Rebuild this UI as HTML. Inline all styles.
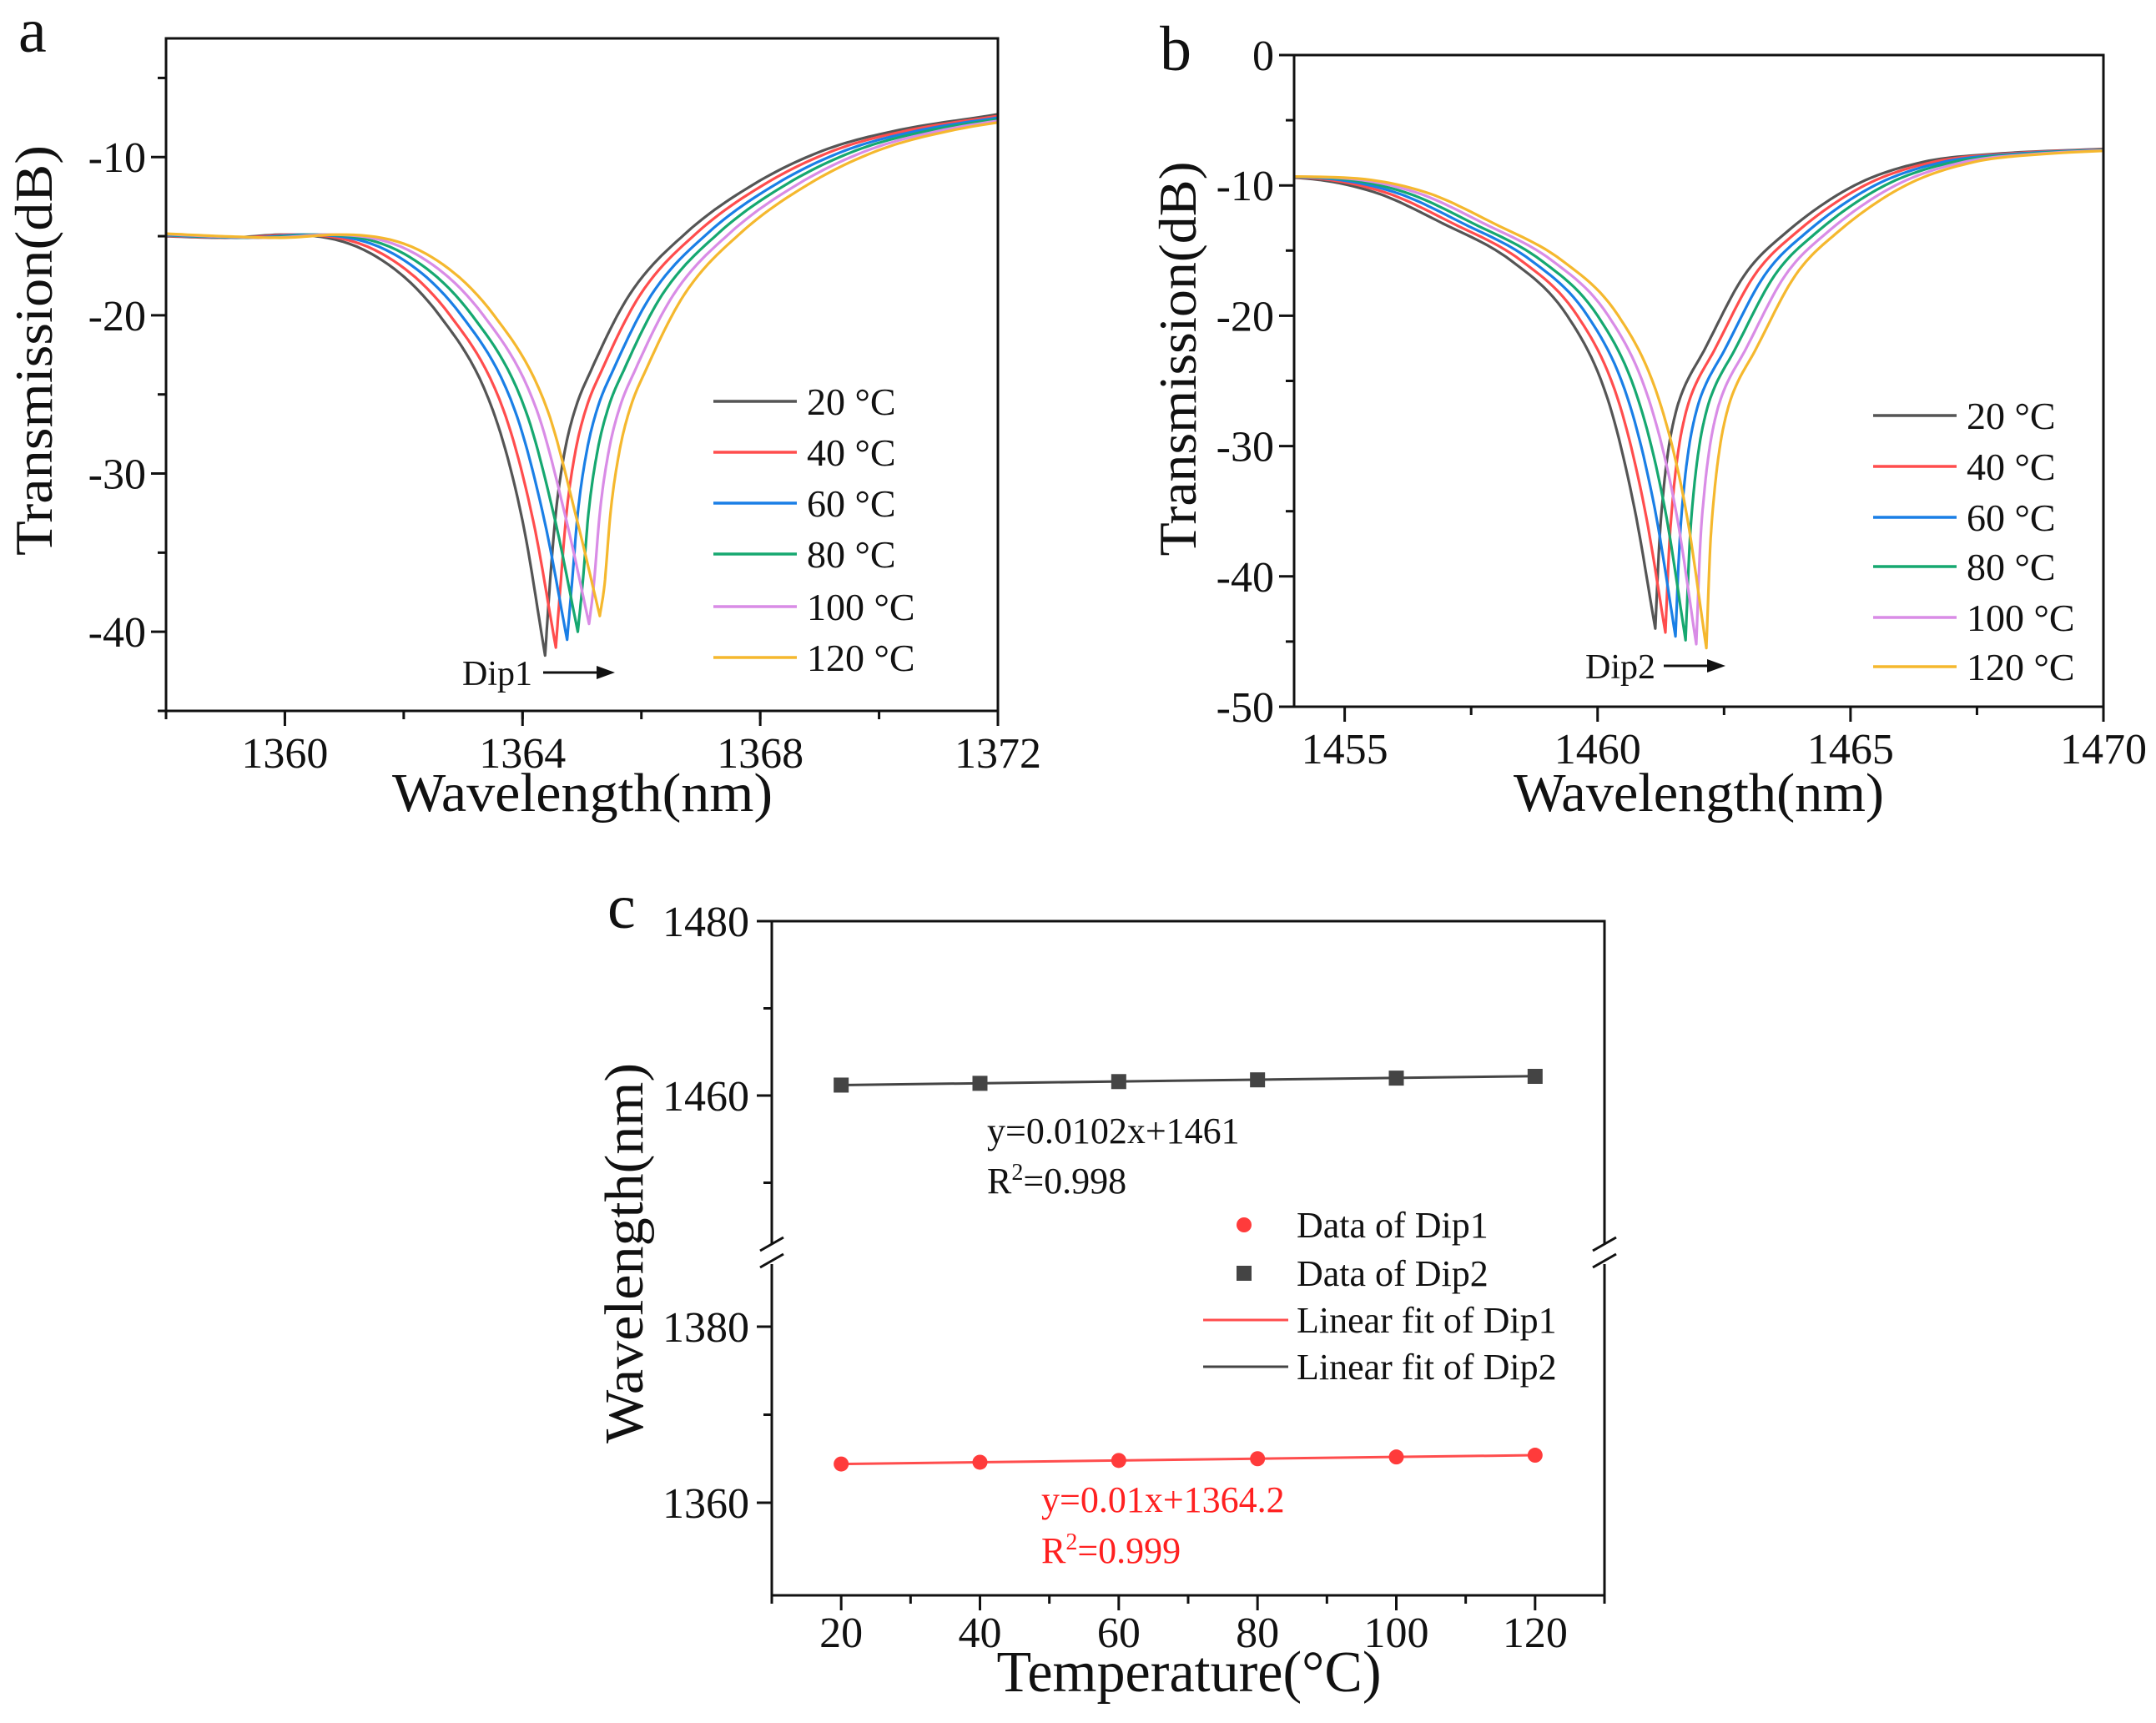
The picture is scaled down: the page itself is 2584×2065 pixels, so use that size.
<!DOCTYPE html>
<html><head><meta charset="utf-8"><style>
html,body{margin:0;padding:0;background:#fff;}
svg{display:block;}
text{font-family:"Liberation Serif",serif;}
</style></head>
<body>
<svg id="fig" width="2584" height="2065" viewBox="0 0 2584 2065" xmlns="http://www.w3.org/2000/svg">
<g id="pa"></g>
<g id="pb"></g>
<g id="pc"></g>
</svg>
<script>
// ---------- data ----------
const tempLabels = ["20 °C","40 °C","60 °C","80 °C","100 °C","120 °C"];
const colors = ["#555555","#ff4d4d","#1a7fe6","#16a870","#d98ce6","#f5b82e"];
// panel a: dip1 spectra
const aCenters = [1364.38,1364.56,1364.75,1364.93,1365.12,1365.30];
const aDepths = [-41.5,-41.0,-40.5,-40.0,-39.5,-39.0];
const aShapeOffsets = [-7.5,-6.38,-5.38,-4.38,-2.93,-1.78,-0.88,-0.38,0,0.08,0.18,0.32,0.5,0.77,1.42,2.37,3.52,4.67,5.82,7.62];
const aShapeValues = [-14.8,-15.0,-15.1,-14.9,-16.1,-20,-26,-33,null,-37,-32.5,-28.8,-26,-23.5,-18.7,-14.8,-11.7,-9.6,-8.4,-7.3];
// panel b: dip2 spectra
const bCenters = [1461.14,1461.34,1461.54,1461.74,1461.95,1462.15];
const bDepths = [-44.0,-44.3,-44.6,-44.9,-45.2,-45.5];
const bShapeOffsets = [-9,-7.17,-5.57,-4.21,-2.84,-1.74,-0.94,-0.41,0,0.08,0.16,0.27,0.4,0.54,0.96,1.76,2.56,3.94,5.3,6.66,8.86];
const bShapeValues = [-9.3,-9.4,-10.5,-12.9,-15.8,-20,-26.4,-34.8,null,-37.5,-33.5,-30,-27.5,-25.8,-22.7,-16.9,-13.7,-10,-8.2,-7.6,-7.2];
// panel c
const temps = [20,40,60,80,100,120];
const dip1 = [1364.4,1364.6,1364.8,1365.0,1365.2,1365.4];
const dip2 = [1461.2,1461.4,1461.6,1461.8,1462.0,1462.2];
const fit1 = [0.01,1364.2];
const fit2 = [0.0102,1461];
const aXTicks = [1360,1364,1368,1372];
const aYTicks = [-10,-20,-30,-40];
const bXTicks = [1455,1460,1465,1470];
const bYTicks = [0,-10,-20,-30,-40,-50];
const cXTicks = [20,40,60,80,100,120];
const cYTicks = [1480,1460,1380,1360];

// ---------- helpers ----------
const NS="http://www.w3.org/2000/svg";
function mk(parent,tag,attrs,txt){const e=document.createElementNS(NS,tag);for(const k in attrs)e.setAttribute(k,attrs[k]);if(txt!==undefined)e.textContent=txt;parent.appendChild(e);return e;}
function lin(d0,d1,p0,p1){return v=>p0+(v-d0)*(p1-p0)/(d1-d0);}
function monotone(pts,n){
 const N=pts.length;if(N<2)return pts.slice();
 const d=[],m=[];
 for(let i=0;i<N-1;i++)d.push((pts[i+1][1]-pts[i][1])/(pts[i+1][0]-pts[i][0]));
 m[0]=d[0];m[N-1]=d[N-2];
 for(let i=1;i<N-1;i++){m[i]=(d[i-1]*d[i]<=0)?0:(d[i-1]+d[i])/2;}
 for(let i=0;i<N-1;i++){if(d[i]===0){m[i]=0;m[i+1]=0;continue;}
  const a=m[i]/d[i],b=m[i+1]/d[i],s=a*a+b*b;if(s>9){const t=3/Math.sqrt(s);m[i]=t*a*d[i];m[i+1]=t*b*d[i];}}
 const out=[];
 for(let i=0;i<N-1;i++){const x0=pts[i][0],x1=pts[i+1][0],h=x1-x0,y0=pts[i][1],y1=pts[i+1][1];
  for(let k=0;k<n;k++){const t=k/n,t2=t*t,t3=t2*t;
   const y=(2*t3-3*t2+1)*y0+(t3-2*t2+t)*h*m[i]+(-2*t3+3*t2)*y1+(t3-t2)*h*m[i+1];
   out.push([x0+t*h,y]);}}
 out.push(pts[N-1]);return out;}

function spectrumPanel(g,cfg){
 const X=lin(cfg.xmin,cfg.xmax,cfg.L,cfg.R), Y=lin(cfg.ymin,cfg.ymax,cfg.B,cfg.T);
 const clip=mk(g,'clipPath',{id:cfg.id+'clip'});mk(clip,'rect',{x:cfg.L,y:cfg.T-20,width:cfg.R-cfg.L,height:cfg.B-cfg.T+20});
 const cg=mk(g,'g',{'clip-path':'url(#'+cfg.id+'clip)'});
 cfg.centers.forEach((c,i)=>{
  const segL=[],segR=[];
  cfg.offs.forEach((o,j)=>{const v=cfg.vals[j]===null?cfg.depths[i]:cfg.vals[j];const p=[c+o,v];
   if(o<=0)segL.push(p);if(o>=0)segR.push(p);});
  const pts=monotone(segL,12).concat(monotone(segR,12).slice(1)).map(q=>[X(q[0]),Y(q[1])]);
  const p=mk(cg,'path',{d:'M'+pts.map(q=>q[0].toFixed(1)+','+q[1].toFixed(1)).join('L'),fill:'none',stroke:colors[i],'stroke-width':3.2,'stroke-linejoin':'round'});
  
  
 });
 const fr=mk(g,'rect',{x:cfg.L,y:cfg.T,width:cfg.R-cfg.L,height:cfg.B-cfg.T,fill:'none',stroke:'#111','stroke-width':3});
 
 cfg.xminor.forEach(v=>mk(g,'line',{x1:X(v),x2:X(v),y1:cfg.B,y2:cfg.B+10,stroke:'#111','stroke-width':3}));
 cfg.yminor.forEach(v=>mk(g,'line',{x1:cfg.L,x2:cfg.L-10,y1:Y(v),y2:Y(v),stroke:'#111','stroke-width':3}));
 cfg.xticks.forEach(v=>{mk(g,'line',{x1:X(v),x2:X(v),y1:cfg.B,y2:cfg.B+18,stroke:'#111','stroke-width':3});
  const t=mk(g,'text',{x:X(v),y:cfg.B+68,'text-anchor':'middle','font-size':52,fill:'#111'},String(v));
  });
 cfg.yticks.forEach(v=>{mk(g,'line',{x1:cfg.L,x2:cfg.L-18,y1:Y(v),y2:Y(v),stroke:'#111','stroke-width':3});
  const t=mk(g,'text',{x:cfg.L-24,y:Y(v)+18,'text-anchor':'end','font-size':52,fill:'#111'},String(v));
  });
 tempLabels.forEach((lab,i)=>{const y=cfg.legY[i];
  const le=mk(g,'g',{});
  mk(le,'line',{x1:cfg.legX,x2:cfg.legX+100,y1:y,y2:y,stroke:colors[i],'stroke-width':3.5});
  mk(le,'text',{x:cfg.legX+112,y:y+16,'font-size':46,fill:'#111'},lab);});
 const dl=mk(g,'text',{x:cfg.dip[0],y:cfg.dip[1]+15,'font-size':42,fill:'#111'},cfg.dipText);
 
 mk(g,'line',{x1:cfg.dip[2],x2:cfg.dip[3]-18,y1:cfg.dip[1],y2:cfg.dip[1],stroke:'#111','stroke-width':3});
 mk(g,'polygon',{points:`${cfg.dip[3]},${cfg.dip[1]} ${cfg.dip[3]-22},${cfg.dip[1]-8} ${cfg.dip[3]-22},${cfg.dip[1]+8}`,fill:'#111'});
 const xt=mk(g,'text',{x:cfg.xt[0],y:cfg.xt[1],'text-anchor':'middle','font-size':66,fill:'#111',textLength:cfg.xt[2],lengthAdjust:'spacingAndGlyphs'},'Wavelength(nm)');
 
 const yt=mk(g,'text',{x:0,y:0,'text-anchor':'middle','font-size':64,fill:'#111',textLength:cfg.yt[2],lengthAdjust:'spacingAndGlyphs',transform:`translate(${cfg.yt[0]},${cfg.yt[1]}) rotate(-90)`},'Transmission(dB)');
 
 const pl=mk(g,'text',{x:cfg.letter[0],y:cfg.letter[1],'font-size':76,fill:'#111'},cfg.letter[2]);
 
}
const rng=(a,b,s)=>{const r=[];for(let v=a;v<=b+1e-9;v+=s)r.push(+v.toFixed(3));return r;};

spectrumPanel(document.getElementById('pa'),{id:'a',xmin:1358,xmax:1372,ymin:-45,ymax:-2.5,L:199,R:1196,T:46,B:852,
 centers:aCenters,depths:aDepths,offs:aShapeOffsets,vals:aShapeValues,
 xticks:aXTicks,yticks:aYTicks,xminor:rng(1358,1372,2),yminor:[-5,-15,-25,-35,-45],
 legX:855,legY:[481,542,603,664,727,788],dip:[554,806,651,737],dipText:'Dip1',
 xt:[698,972,456],yt:[62,420,492],letter:[22,62,'a']});
spectrumPanel(document.getElementById('pb'),{id:'b',xmin:1454,xmax:1470,ymin:-50,ymax:0,L:1551,R:2521,T:66,B:847,
 centers:bCenters,depths:bDepths,offs:bShapeOffsets,vals:bShapeValues,
 xticks:bXTicks,yticks:bYTicks,xminor:rng(1457.5,1467.5,5),yminor:[-5,-15,-25,-35,-45],
 legX:2245,legY:[498,559,620,679,740,799],dip:[1900,798,1994,2068],dipText:'Dip2',
 xt:[2036,972,444],yt:[1433,430,473],letter:[1390,84,'b']});

// ---------- panel c ----------
(function(){
 const g=document.getElementById('pc');
 const L=925,R=1923,T=1104,B=1912,BRK=1503;
 const X=lin(10,130,L,R);
 const Ylo=lin(1360,1380,1801,1590), Yhi=lin(1460,1480,1313,1104);
 const Y=v=>v>1420?Yhi(v):Ylo(v);
 const f=mk(g,'path',{d:`M${L},${BRK-12}V${T}H${R}V${BRK-12}M${R},${BRK+12}V${B}H${L}V${BRK+12}`,fill:'none',stroke:'#111','stroke-width':3});
 
 [L,R].forEach(x=>{mk(g,'line',{x1:x-14,y1:BRK-4,x2:x+14,y2:BRK-20,stroke:'#111','stroke-width':3});
  mk(g,'line',{x1:x-14,y1:BRK+16,x2:x+14,y2:BRK,stroke:'#111','stroke-width':3});});
 rng(10,130,10).forEach(v=>{const maj=cXTicks.includes(v);mk(g,'line',{x1:X(v),x2:X(v),y1:B,y2:B+(maj?18:10),stroke:'#111','stroke-width':3});});
 cXTicks.forEach(v=>{const t=mk(g,'text',{x:X(v),y:1974,'text-anchor':'middle','font-size':52,fill:'#111'},String(v));
  });
 [1470,1450,1370].forEach(v=>mk(g,'line',{x1:L,x2:L-10,y1:Y(v),y2:Y(v),stroke:'#111','stroke-width':3}));
 cYTicks.forEach(v=>{mk(g,'line',{x1:L,x2:L-18,y1:Y(v),y2:Y(v),stroke:'#111','stroke-width':3});
  const t=mk(g,'text',{x:898,y:Y(v)+18,'text-anchor':'end','font-size':52,fill:'#111'},String(v));
  });
 const f1=mk(g,'line',{x1:X(20),x2:X(120),y1:Y(fit1[0]*20+fit1[1]),y2:Y(fit1[0]*120+fit1[1]),stroke:'#ff4d4d','stroke-width':3});
 
 const f2=mk(g,'line',{x1:X(20),x2:X(120),y1:Y(fit2[0]*20+fit2[1]),y2:Y(fit2[0]*120+fit2[1]),stroke:'#444','stroke-width':3});
 
 temps.forEach((t,i)=>{
  const c=mk(g,'circle',{cx:X(t),cy:Y(dip1[i]),r:9,fill:'#ff3b3b'});
  
  const s=mk(g,'rect',{x:X(t)-9,y:Y(dip2[i])-9,width:18,height:18,fill:'#444'});
  
 });
 const txt=(x,y,s,fill,name,sup)=>{const t=mk(g,'text',{x,y,'font-size':44,fill,style:'fill:'+fill});
  if(sup){mk(t,'tspan',{},'R');mk(t,'tspan',{dy:-16,'font-size':28},'2');mk(t,'tspan',{dy:16},s);}else t.textContent=s;
  };
 txt(1183,1370,'y=0.0102x+1461','#111','fit2-equation');
 txt(1183,1430,'=0.998','#111','fit2-r2',true);
 txt(1248,1812,'y=0.01x+1364.2','#ff2020','fit1-equation');
 txt(1248,1873,'=0.999','#ff2020','fit1-r2',true);
 const ly=[1468,1526,1582,1638];
 const labs=['Data of Dip1','Data of Dip2','Linear fit of Dip1','Linear fit of Dip2'];
 labs.forEach((lab,i)=>{const le=mk(g,'g',{});
  if(i===0)mk(le,'circle',{cx:1491,cy:ly[i],r:9,fill:'#ff3b3b'});
  if(i===1)mk(le,'rect',{x:1482,y:ly[i]-9,width:18,height:18,fill:'#444'});
  if(i===2)mk(le,'line',{x1:1442,x2:1544,y1:ly[i],y2:ly[i],stroke:'#ff4d4d','stroke-width':3});
  if(i===3)mk(le,'line',{x1:1442,x2:1544,y1:ly[i],y2:ly[i],stroke:'#444','stroke-width':3});
  mk(le,'text',{x:1554,y:ly[i]+15,'font-size':44,fill:'#111'},lab);});
 const xt=mk(g,'text',{x:1425,y:2027,'text-anchor':'middle','font-size':70,fill:'#111',textLength:461,lengthAdjust:'spacingAndGlyphs'},'Temperature(°C)');
 
 const yt=mk(g,'text',{x:0,y:0,'text-anchor':'middle','font-size':66,fill:'#111',textLength:456,lengthAdjust:'spacingAndGlyphs',transform:'translate(770,1502) rotate(-90)'},'Wavelength(nm)');
 
 const pl=mk(g,'text',{x:728,y:1112,'font-size':76,fill:'#111'},'c');
 
})();
</script>
</body></html>
